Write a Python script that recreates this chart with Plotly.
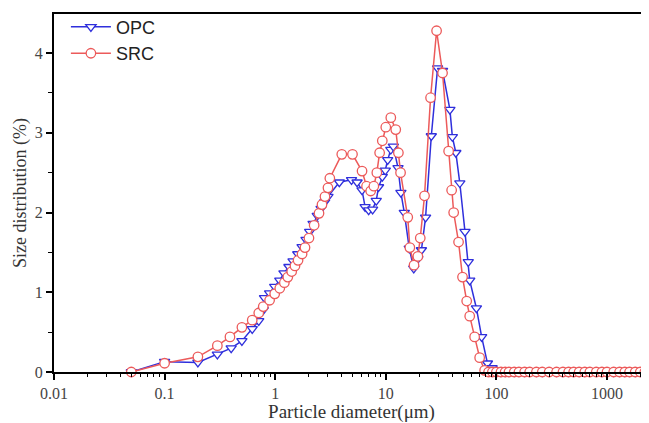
import plotly.graph_objects as go

# ---- data ----
opc_d = [0.05, 0.1, 0.2, 0.3, 0.4, 0.5, 0.62, 0.71, 0.78, 0.80, 0.89, 0.99, 1.1, 1.2, 1.33, 1.45,
         1.6, 1.75, 1.9, 2.05, 2.2, 2.4, 2.6, 2.8, 3.0, 3.8, 4.9, 5.5, 6.1, 6.5, 7.0, 7.6, 8.2,
         8.6, 9.3, 9.9, 10.4, 11.1, 11.7, 12.9, 13.7, 14.7, 16.3, 17.9, 19.5, 21, 22.9, 25.8,
         29.4, 32.6, 38, 40, 43, 46.7, 52, 55.7, 57.4, 66, 73.6, 83, 91.5, 101,
         110, 120, 130, 145, 160, 180, 200, 230, 260, 300, 350, 400, 450, 500, 560, 630,
         700, 800, 900, 1000, 1150, 1300, 1450, 1600, 1800, 2000, 2200, 2400]
opc_v = [0, 0.13, 0.12, 0.22, 0.30, 0.39, 0.54, 0.64, 0.78, 0.93, 0.99, 1.07, 1.15, 1.24, 1.32, 1.39,
         1.48, 1.57, 1.66, 1.76, 1.86, 1.96, 2.05, 2.13, 2.20, 2.38, 2.41, 2.38, 2.28, 2.07, 2.03, 2.04, 2.15,
         2.32, 2.45, 2.53, 2.66, 2.79, 2.83, 2.56, 2.25, 2.00, 1.55, 1.30, 1.42, 1.53, 1.94, 2.96,
         3.81, 3.78, 3.29, 2.95, 2.75, 2.37, 1.76, 1.38, 1.15, 0.80, 0.44, 0.11, 0.05, 0,
         0, 0, 0, 0, 0, 0, 0, 0, 0, 0, 0, 0, 0, 0, 0, 0,
         0, 0, 0, 0, 0, 0, 0, 0, 0, 0, 0, 0]

src_d = [0.05, 0.1, 0.2, 0.3, 0.39, 0.5, 0.62, 0.71, 0.78, 0.89, 0.99, 1.1, 1.21, 1.3, 1.41, 1.51,
         1.61, 1.75, 1.86, 2.02, 2.25, 2.49, 2.65, 2.82, 3.0, 3.12, 4.0, 5.0, 6.1, 6.7, 7.3, 7.8,
         8.3, 8.8, 9.3, 10.0, 11.1, 12.3, 13.0, 13.6, 15.8, 16.5, 18.0, 19.5, 20.5, 22.4, 25.4,
         28.8, 32.6, 37.0, 39.4, 41.1, 45.5, 49.4, 53.9, 57.4, 63.6, 70.6, 78.3,
         85, 92, 100, 110, 120, 130, 145, 160, 180, 200, 230, 260, 300, 350, 400, 450, 500,
         560, 630, 700, 800, 900, 1000, 1150, 1300, 1450, 1600, 1800, 2000, 2200, 2400]
src_v = [0, 0.11, 0.19, 0.33, 0.44, 0.56, 0.65, 0.74, 0.82, 0.90, 0.98, 1.05, 1.12, 1.19, 1.26, 1.33,
         1.40, 1.48, 1.56, 1.68, 1.84, 1.99, 2.10, 2.20, 2.31, 2.43, 2.73, 2.73, 2.52, 2.33, 2.27, 2.33,
         2.50, 2.75, 2.90, 3.07, 3.19, 3.04, 2.75, 2.50, 1.94, 1.56, 1.34, 1.45, 1.68, 2.21, 3.44,
         4.28, 3.75, 2.77, 2.28, 2.00, 1.63, 1.19, 0.89, 0.70, 0.44, 0.18, 0.02,
         0, 0, 0, 0, 0, 0, 0, 0, 0, 0, 0, 0, 0, 0, 0, 0, 0,
         0, 0, 0, 0, 0, 0, 0, 0, 0, 0, 0, 0, 0]

x_tick_vals = [0.01, 0.1, 1, 10, 100, 1000]
x_tick_text = ["0.01", "0.1", "1", "10", "100", "1000"]
y_tick_vals = [0, 1, 2, 3, 4]

BLUE = "#2f2fdc"
RED = "#ec5a5a"

fig = go.Figure()
fig.add_trace(go.Scatter(
    x=opc_d, y=opc_v, name="OPC", mode="lines+markers",
    line=dict(color=BLUE, width=1.5),
    marker=dict(symbol="triangle-down", size=9, color="white",
                line=dict(color=BLUE, width=1.3)),
    cliponaxis=False))
fig.add_trace(go.Scatter(
    x=src_d, y=src_v, name="SRC", mode="lines+markers",
    line=dict(color=RED, width=1.5),
    marker=dict(symbol="circle", size=9.5, color="white",
                line=dict(color=RED, width=1.3)),
    cliponaxis=False))

serif = "Liberation Serif, Times New Roman, serif"
# the page body adds an 8px offset; size and margins compensate for it
fig.update_layout(
    width=641, height=415,
    margin=dict(l=46, r=0, t=6, b=51, autoexpand=False),
    paper_bgcolor="white", plot_bgcolor="white",
    showlegend=True,
    legend=dict(x=0.02, y=1.015, xanchor="left", yanchor="top",
                bgcolor="rgba(0,0,0,0)",
                font=dict(family="Liberation Sans, Arial, sans-serif", size=18, color="#222"),
                tracegroupgap=0, itemwidth=40),
    xaxis=dict(type="log", range=[-2, 3.38], automargin=False,
               tickvals=x_tick_vals, ticktext=x_tick_text,
               showline=True, linecolor="black", linewidth=2, mirror=True,
               ticks="outside", ticklen=6, tickwidth=1.5, tickcolor="black",
               minor=dict(ticks="outside", ticklen=3, tickwidth=1.2, tickcolor="black",
                          dtick="D1", showgrid=False),
               showgrid=False, zeroline=False,
               tickfont=dict(family=serif, size=16, color="#444"),
               title=dict(text="Particle diameter(μm)", standoff=1,
                          font=dict(family=serif, size=19, color="#333"))),
    yaxis=dict(range=[0, 4.49], tickvals=y_tick_vals, automargin=False,
               showline=True, linecolor="black", linewidth=2, mirror=False,
               ticks="outside", ticklen=6, tickwidth=1.5, tickcolor="black",
               minor=dict(ticks="outside", ticklen=4, tickwidth=1.2, tickcolor="black",
                          dtick=0.5, showgrid=False),
               showgrid=False, zeroline=False,
               tickfont=dict(family=serif, size=16, color="#444"),
               title=dict(text="Size distribution (%)", standoff=3,
                          font=dict(family=serif, size=18, color="#333"))),
)

fig.write_html("out.html")
